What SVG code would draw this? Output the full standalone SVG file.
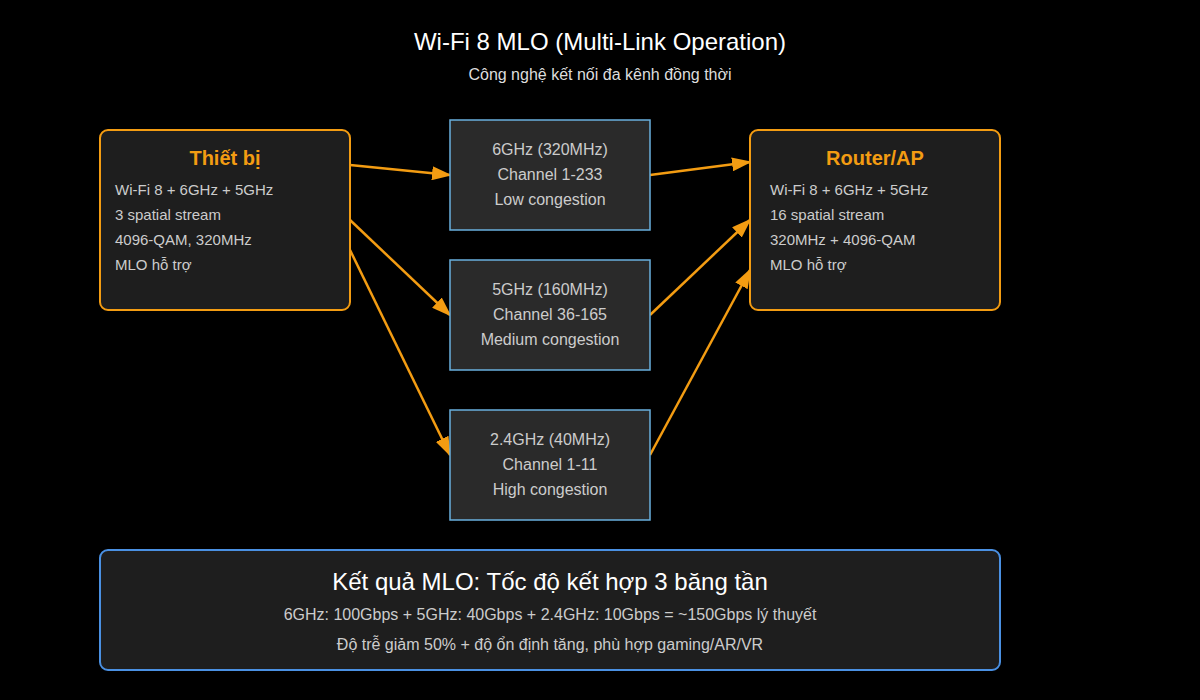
<svg xmlns="http://www.w3.org/2000/svg" width="1200" height="700" viewBox="0 0 1200 700">
<style>
text{font-family:"Liberation Sans",Arial,sans-serif}
.dev{fill:#1e1e1e;stroke:#f39c12;stroke-width:2}
.band{fill:#2a2a2a;stroke:#6ab0de;stroke-width:1.5}
.h{fill:#f39c12;font-size:20px;font-weight:bold;text-anchor:middle}
.t{fill:#cccccc;font-size:15px}
.c{fill:#cccccc;font-size:16px;text-anchor:middle}
.ln{stroke:#f39c12;stroke-width:2.5;fill:none;marker-end:url(#ah2)}
</style>
<defs><marker id="ah2" markerWidth="20" markerHeight="14" refX="18" refY="7" orient="auto" markerUnits="userSpaceOnUse"><path d="M0,0 L20,7 L0,14z" fill="#f39c12"/></marker></defs>
<rect width="1200" height="700" fill="#000"/>
<text x="600" y="50" fill="#fff" font-size="24" text-anchor="middle">Wi-Fi 8 MLO (Multi-Link Operation)</text>
<text x="600" y="80" fill="#ddd" font-size="16" text-anchor="middle">Công nghệ kết nối đa kênh đồng thời</text>
<g id="connectors">
<line class="ln" x1="350" y1="165" x2="450" y2="175"/>
<line class="ln" x1="350" y1="220" x2="450" y2="315"/>
<line class="ln" x1="350" y1="250" x2="450" y2="455"/>
<line class="ln" x1="650" y1="175" x2="750" y2="162"/>
<line class="ln" x1="650" y1="315" x2="750" y2="220"/>
<line class="ln" x1="650" y1="455" x2="750" y2="270"/>
</g>
<g id="device"><rect class="dev" x="100" y="130" width="250" height="180" rx="8"/>
<text class="h" x="225" y="165">Thiết bị</text>
<text class="t" x="115" y="195">Wi-Fi 8 + 6GHz + 5GHz</text>
<text class="t" x="115" y="220">3 spatial stream</text>
<text class="t" x="115" y="245">4096-QAM, 320MHz</text>
<text class="t" x="115" y="270">MLO hỗ trợ</text></g>
<g id="router"><rect class="dev" x="750" y="130" width="250" height="180" rx="8"/>
<text class="h" x="875" y="165">Router/AP</text>
<text class="t" x="770" y="195">Wi-Fi 8 + 6GHz + 5GHz</text>
<text class="t" x="770" y="220">16 spatial stream</text>
<text class="t" x="770" y="245">320MHz + 4096-QAM</text>
<text class="t" x="770" y="270">MLO hỗ trợ</text></g>
<g id="band6"><rect class="band" x="450" y="120" width="200" height="110"/>
<text class="c" x="550" y="155">6GHz (320MHz)</text><text class="c" x="550" y="180">Channel 1-233</text><text class="c" x="550" y="205">Low congestion</text></g>
<g id="band5"><rect class="band" x="450" y="260" width="200" height="110"/>
<text class="c" x="550" y="295">5GHz (160MHz)</text><text class="c" x="550" y="320">Channel 36-165</text><text class="c" x="550" y="345">Medium congestion</text></g>
<g id="band24"><rect class="band" x="450" y="410" width="200" height="110"/>
<text class="c" x="550" y="445">2.4GHz (40MHz)</text><text class="c" x="550" y="470">Channel 1-11</text><text class="c" x="550" y="495">High congestion</text></g>
<g id="result"><rect x="100" y="550" width="900" height="120" rx="8" fill="#1e1e1e" stroke="#4a90e2" stroke-width="2"/>
<text x="550" y="590" fill="#fff" font-size="24" text-anchor="middle">Kết quả MLO: Tốc độ kết hợp 3 băng tần</text>
<text class="c" x="550" y="620">6GHz: 100Gbps + 5GHz: 40Gbps + 2.4GHz: 10Gbps = ~150Gbps lý thuyết</text>
<text class="c" x="550" y="650">Độ trễ giảm 50% + độ ổn định tăng, phù hợp gaming/AR/VR</text></g>
</svg>
